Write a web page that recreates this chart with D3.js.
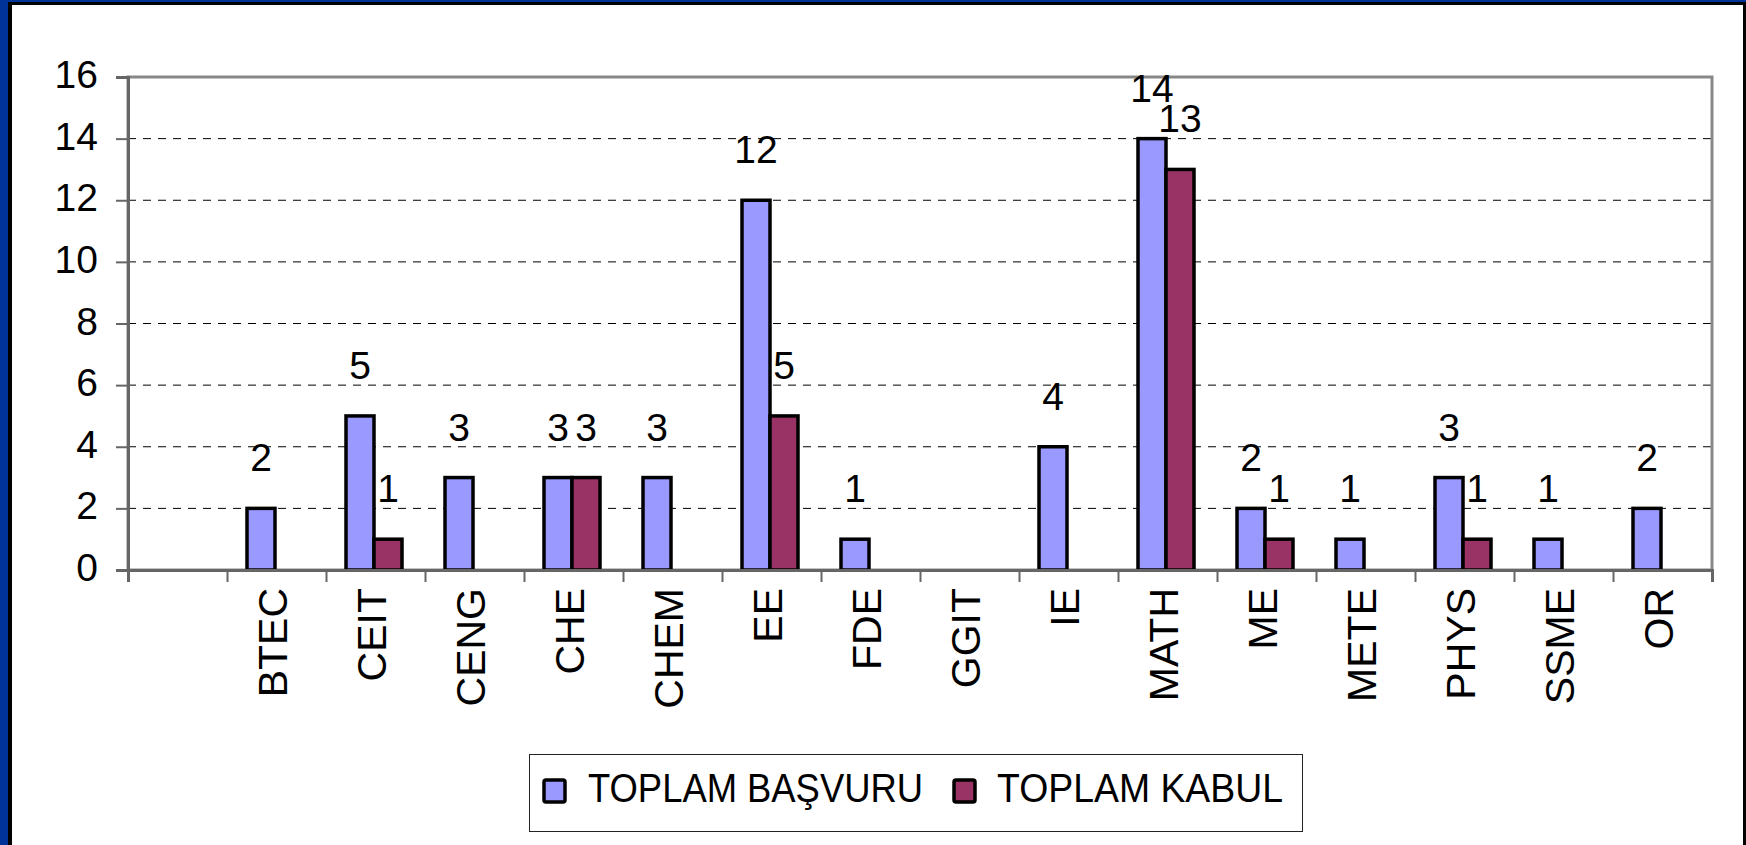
<!DOCTYPE html>
<html>
<head>
<meta charset="utf-8">
<script src="https://cdn.jsdelivr.net/npm/d3@7"></script>
<style>
  html, body { margin: 0; padding: 0; background: #003399; overflow: hidden; }
  svg { display: block; }
  text { font-family: "Liberation Sans", Arial, Helvetica, sans-serif; fill: #000; }
</style>
</head>
<body>
<svg id="chart" width="1746" height="845"></svg>
<script>
// ---- data ----
const categories = ["", "BTEC", "CEIT", "CENG", "CHE", "CHEM", "EE", "FDE", "GGIT", "IE", "MATH", "ME", "METE", "PHYS", "SSME", "OR"];
const basvuru    = [null, 2, 5, 3, 3, 3, 12, 1, null, 4, 14, 2, 1, 3, 1, 2];
const kabul      = [null, null, 1, null, 3, null, 5, null, null, null, 13, 1, null, 1, null, null];
const seriesNames = ["TOPLAM BAŞVURU", "TOPLAM KABUL"];
const seriesColors = ["#9999FF", "#993366"];
const yTicks = [0, 2, 4, 6, 8, 10, 12, 14, 16];

// ---- layout ----
const W = 1746, H = 845;
const plot = { left: 128, right: 1712, top: 77, bottom: 570 };

const svg = d3.select("#chart");

// frame
svg.append("rect").attr("x", 8).attr("y", 2).attr("width", W - 8).attr("height", H - 2).attr("fill", "#000");
svg.append("rect").attr("x", 12).attr("y", 5).attr("width", W - 15).attr("height", H - 5).attr("fill", "#fff");

const x0 = d3.scaleBand().domain(categories.map((c, i) => i)).range([plot.left, plot.right]).padding(0);
const xEdge = d3.scaleLinear().domain([0, categories.length]).range([plot.left, plot.right]);
const y = d3.scaleLinear().domain([0, 16]).range([plot.bottom, plot.top]);
const step = x0.step();
const bw = 28;
const shift = -1.5;

// gridlines
svg.append("g").selectAll("line").data(yTicks.filter(t => t > 0 && t < 16)).join("line")
  .attr("x1", plot.left).attr("x2", plot.right)
  .attr("y1", d => y(d)).attr("y2", d => y(d))
  .attr("stroke", "#000").attr("stroke-width", 1).attr("stroke-dasharray", "8,7");

// plot border (top/right)
svg.append("rect").attr("x", plot.left).attr("y", plot.top)
  .attr("width", plot.right - plot.left).attr("height", plot.bottom - plot.top)
  .attr("fill", "none").attr("stroke", "#888").attr("stroke-width", 3);

// bars
const seriesData = [basvuru, kabul];
seriesData.forEach((vals, s) => {
  svg.append("g").selectAll("rect")
    .data(vals.map((v, i) => ({ v, i })).filter(d => d.v != null && d.v > 0))
    .join("rect")
    .attr("x", d => x0(d.i) + step / 2 + shift - bw + s * bw)
    .attr("y", d => y(d.v))
    .attr("width", bw)
    .attr("height", d => y(0) - y(d.v))
    .attr("fill", seriesColors[s])
    .attr("stroke", "#000").attr("stroke-width", 3.5);
});

// y axis
const yAxis = svg.append("g").attr("transform", `translate(${plot.left},0)`)
  .call(d3.axisLeft(y).tickValues(yTicks).tickSize(12).tickPadding(18).tickFormat(d3.format("d")));
yAxis.select(".domain").attr("stroke", "#666").attr("stroke-width", 3);
yAxis.selectAll(".tick line").attr("stroke", "#666").attr("stroke-width", 2);
yAxis.selectAll(".tick text").attr("font-size", 39).attr("dy", null).attr("y", 10.5)
  .attr("font-family", "Liberation Sans, Arial, sans-serif").attr("fill", "#000");

// x axis (ticks at category boundaries)
const xAxis = svg.append("g").attr("transform", `translate(0,${plot.bottom})`)
  .call(d3.axisBottom(xEdge).tickValues(d3.range(0, categories.length + 1)).tickSize(12).tickFormat(""));
xAxis.select(".domain").attr("stroke", "#666").attr("stroke-width", 3);
xAxis.selectAll(".tick line").attr("stroke", "#666").attr("stroke-width", 2);

// category labels
svg.append("g").selectAll("text").data(categories.map((c, i) => ({ c, i })).filter(d => d.c)).join("text")
  .attr("transform", d => `translate(${x0(d.i) + step / 2 + 10.5},588) rotate(-90)`)
  .attr("text-anchor", "end")
  .attr("font-size", 41)
  .text(d => d.c);

// data labels
seriesData.forEach((vals, s) => {
  svg.append("g").selectAll("text")
    .data(vals.map((v, i) => ({ v, i })).filter(d => d.v != null && d.v > 0))
    .join("text")
    .attr("x", d => x0(d.i) + step / 2 + shift - bw + s * bw + bw / 2)
    .attr("y", d => y(d.v) - 37)
    .attr("text-anchor", "middle")
    .attr("font-size", 39)
    .text(d => d.v);
});

// legend
const lg = svg.append("g");
lg.append("rect").attr("x", 529.5).attr("y", 754.5).attr("width", 773).attr("height", 77)
  .attr("fill", "#fff").attr("stroke", "#222").attr("stroke-width", 1);
const legendItems = [
  { sx: 544, tx: 588, tl: 335 },
  { sx: 954, tx: 997, tl: 286 }
];
legendItems.forEach((it, s) => {
  lg.append("rect").attr("x", it.sx).attr("y", 780).attr("width", 21).attr("height", 22)
    .attr("rx", 2).attr("fill", seriesColors[s]).attr("stroke", "#000").attr("stroke-width", 3.5);
  lg.append("text").attr("x", it.tx).attr("y", 802).attr("font-size", 40)
    .attr("textLength", it.tl).attr("lengthAdjust", "spacingAndGlyphs")
    .text(seriesNames[s]);
});
</script>
</body>
</html>
